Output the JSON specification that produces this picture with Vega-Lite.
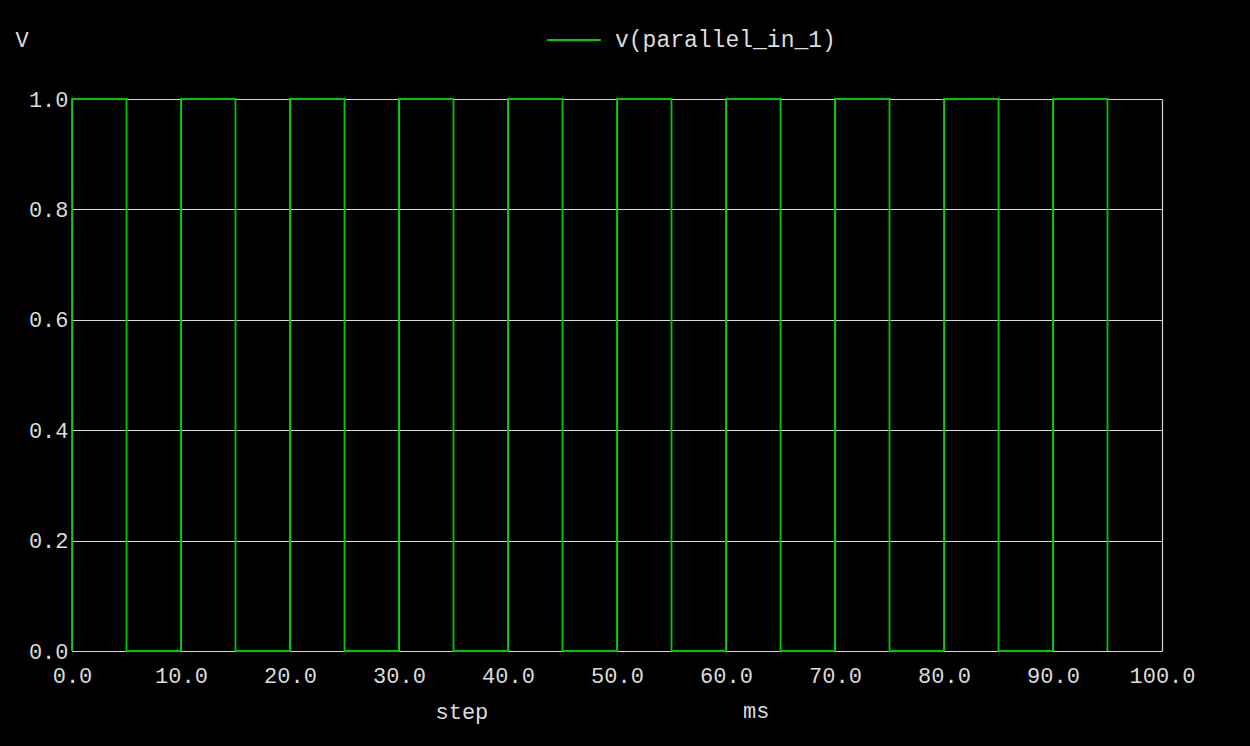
{
  "$schema": "https://vega.github.io/schema/vega-lite/v6.json",
  "width": 1090,
  "height": 552,
  "autosize": "none",
  "padding": {"left": 72, "top": 99, "right": 88, "bottom": 95},
  "background": "#000000",
  "config": {
    "view": {"stroke": null},
    "font": "Liberation Mono"
  },
  "title": {
    "text": "ms",
    "orient": "bottom",
    "anchor": "start",
    "frame": "group",
    "dx": 671,
    "offset": -21,
    "fontSize": 22,
    "font": "Liberation Mono",
    "fontWeight": "normal",
    "color": "#dcdcdc",
    "baseline": "top"
  },
  "data": {
    "values": [
      {"i": 0, "t": 0, "v": 0, "s": "v(parallel_in_1)"},
      {"i": 1, "t": 0, "v": 1, "s": "v(parallel_in_1)"},
      {"i": 2, "t": 5, "v": 1, "s": "v(parallel_in_1)"},
      {"i": 3, "t": 5, "v": 0, "s": "v(parallel_in_1)"},
      {"i": 4, "t": 10, "v": 0, "s": "v(parallel_in_1)"},
      {"i": 5, "t": 10, "v": 1, "s": "v(parallel_in_1)"},
      {"i": 6, "t": 15, "v": 1, "s": "v(parallel_in_1)"},
      {"i": 7, "t": 15, "v": 0, "s": "v(parallel_in_1)"},
      {"i": 8, "t": 20, "v": 0, "s": "v(parallel_in_1)"},
      {"i": 9, "t": 20, "v": 1, "s": "v(parallel_in_1)"},
      {"i": 10, "t": 25, "v": 1, "s": "v(parallel_in_1)"},
      {"i": 11, "t": 25, "v": 0, "s": "v(parallel_in_1)"},
      {"i": 12, "t": 30, "v": 0, "s": "v(parallel_in_1)"},
      {"i": 13, "t": 30, "v": 1, "s": "v(parallel_in_1)"},
      {"i": 14, "t": 35, "v": 1, "s": "v(parallel_in_1)"},
      {"i": 15, "t": 35, "v": 0, "s": "v(parallel_in_1)"},
      {"i": 16, "t": 40, "v": 0, "s": "v(parallel_in_1)"},
      {"i": 17, "t": 40, "v": 1, "s": "v(parallel_in_1)"},
      {"i": 18, "t": 45, "v": 1, "s": "v(parallel_in_1)"},
      {"i": 19, "t": 45, "v": 0, "s": "v(parallel_in_1)"},
      {"i": 20, "t": 50, "v": 0, "s": "v(parallel_in_1)"},
      {"i": 21, "t": 50, "v": 1, "s": "v(parallel_in_1)"},
      {"i": 22, "t": 55, "v": 1, "s": "v(parallel_in_1)"},
      {"i": 23, "t": 55, "v": 0, "s": "v(parallel_in_1)"},
      {"i": 24, "t": 60, "v": 0, "s": "v(parallel_in_1)"},
      {"i": 25, "t": 60, "v": 1, "s": "v(parallel_in_1)"},
      {"i": 26, "t": 65, "v": 1, "s": "v(parallel_in_1)"},
      {"i": 27, "t": 65, "v": 0, "s": "v(parallel_in_1)"},
      {"i": 28, "t": 70, "v": 0, "s": "v(parallel_in_1)"},
      {"i": 29, "t": 70, "v": 1, "s": "v(parallel_in_1)"},
      {"i": 30, "t": 75, "v": 1, "s": "v(parallel_in_1)"},
      {"i": 31, "t": 75, "v": 0, "s": "v(parallel_in_1)"},
      {"i": 32, "t": 80, "v": 0, "s": "v(parallel_in_1)"},
      {"i": 33, "t": 80, "v": 1, "s": "v(parallel_in_1)"},
      {"i": 34, "t": 85, "v": 1, "s": "v(parallel_in_1)"},
      {"i": 35, "t": 85, "v": 0, "s": "v(parallel_in_1)"},
      {"i": 36, "t": 90, "v": 0, "s": "v(parallel_in_1)"},
      {"i": 37, "t": 90, "v": 1, "s": "v(parallel_in_1)"},
      {"i": 38, "t": 95, "v": 1, "s": "v(parallel_in_1)"},
      {"i": 39, "t": 95, "v": 0, "s": "v(parallel_in_1)"}
    ]
  },
  "mark": {"type": "line", "strokeWidth": 1.8, "clip": false, "interpolate": "linear"},
  "encoding": {
    "x": {
      "field": "t",
      "type": "quantitative",
      "scale": {"domain": [0, 100], "nice": false, "zero": false},
      "axis": {
        "values": [0, 10, 20, 30, 40, 50, 60, 70, 80, 90, 100],
        "format": ".1f",
        "grid": true,
        "gridColor": "#d8d8d8",
        "gridWidth": 1.2,
        "gridOpacity": 1,
        "domain": false,
        "ticks": false,
        "labelFont": "Liberation Mono",
        "labelFontSize": 22,
        "labelColor": "#dcdcdc",
        "labelPadding": 14,
        "labelBaseline": "top",
        "labelFlush": false,
        "labelOverlap": false,
        "title": "step",
        "titleFont": "Liberation Mono",
        "titleFontSize": 22,
        "titleFontWeight": "normal",
        "titleColor": "#dcdcdc",
        "titleAlign": "left",
        "titleBaseline": "top",
        "titleAnchor": null,
        "titleX": 363,
        "titleY": 50
      }
    },
    "y": {
      "field": "v",
      "type": "quantitative",
      "scale": {"domain": [0, 1], "nice": false, "zero": false},
      "axis": {
        "values": [0, 0.2, 0.4, 0.6, 0.8, 1.0],
        "format": ".1f",
        "grid": true,
        "gridColor": "#d8d8d8",
        "gridWidth": 1.2,
        "gridOpacity": 1,
        "domain": false,
        "ticks": false,
        "labelFont": "Liberation Mono",
        "labelFontSize": 22,
        "labelColor": "#dcdcdc",
        "labelPadding": 4,
        "labelBaseline": "middle",
        "labelFlush": false,
        "labelOverlap": false,
        "title": "V",
        "titleFont": "Liberation Mono",
        "titleFontSize": 22,
        "titleFontWeight": "normal",
        "titleColor": "#dcdcdc",
        "titleAngle": 0,
        "titleAlign": "left",
        "titleBaseline": "middle",
        "titleAnchor": null,
        "titleX": -57,
        "titleY": -60
      }
    },
    "color": {
      "field": "s",
      "type": "nominal",
      "scale": {"range": ["#00c800"]},
      "legend": {
        "orient": "none",
        "legendX": 474,
        "legendY": -87,
        "title": null,
        "symbolType": "stroke",
        "symbolSize": 2916,
        "symbolStrokeWidth": 1.8,
        "labelFont": "Liberation Mono",
        "labelFontSize": 23,
        "labelColor": "#dcdcdc",
        "labelOffset": 13,
        "labelLimit": 0,
        "padding": 0
      }
    },
    "order": {"field": "i", "type": "quantitative"}
  }
}
